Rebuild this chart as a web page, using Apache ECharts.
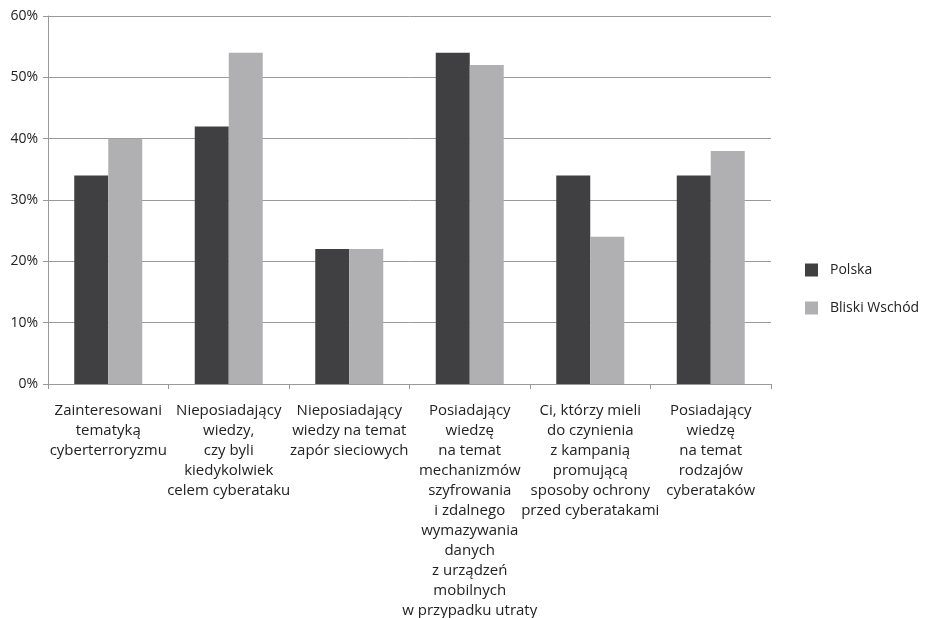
<!DOCTYPE html>
<html>
<head>
<meta charset="utf-8">
<script src="https://cdn.jsdelivr.net/npm/echarts@6/dist/echarts.min.js"></script>
<style>
  html, body { margin: 0; padding: 0; background: #fff; }
  #chart { width: 925px; height: 618px; }
</style>
</head>
<body>
<div id="chart"></div>
<script>
var categories = [
  'Zainteresowani\ntematyką\ncyberterroryzmu',
  'Nieposiadający\nwiedzy,\nczy byli\nkiedykolwiek\ncelem cyberataku',
  'Nieposiadający\nwiedzy na temat\nzapór sieciowych',
  'Posiadający\nwiedzę\nna temat\nmechanizmów\nszyfrowania\ni zdalnego\nwymazywania\ndanych\nz urządzeń\nmobilnych\nw przypadku utraty',
  'Ci, którzy mieli\ndo czynienia\nz kampanią\npromującą\nsposoby ochrony\nprzed cyberatakami',
  'Posiadający\nwiedzę\nna temat\nrodzajów\ncyberataków'
];
var polska = [34, 42, 22, 54, 34, 34];
var bliskiWschod = [40, 54, 22, 52, 24, 38];
var seriesNames = ['Polska', 'Bliski Wschód'];

var font = 'Open Sans';
var chart = echarts.init(document.getElementById('chart'));
var option = {
  animation: false,
  textStyle: { fontFamily: font },
  grid: { left: 48, right: 154, top: 16, bottom: 234, outerBoundsMode: 'none', containLabel: false },
  legend: {
    orient: 'vertical',
    left: 800,
    top: 258,
    itemWidth: 13,
    itemHeight: 13,
    itemGap: 24,
    icon: 'rect',
    textStyle: { fontFamily: font, fontSize: 14, color: '#222', padding: [0, 0, 0, 7] },
    data: seriesNames
  },
  xAxis: {
    type: 'category',
    data: categories,
    axisLine: { lineStyle: { color: '#9a9a9a', width: 1 } },
    axisTick: { show: true, alignWithLabel: false, length: 5, lineStyle: { color: '#9a9a9a' } },
    axisLabel: {
      interval: 0,
      margin: 17,
      fontFamily: font,
      fontSize: 15,
      lineHeight: 20,
      color: '#222'
    }
  },
  yAxis: {
    type: 'value',
    min: 0,
    max: 60,
    interval: 10,
    axisLine: { show: true, lineStyle: { color: '#9a9a9a' } },
    axisTick: { show: true, length: 5, lineStyle: { color: '#9a9a9a' } },
    axisLabel: {
      formatter: '{value}%',
      margin: 10,
      fontFamily: font,
      fontSize: 14,
      color: '#222'
    },
    splitLine: { lineStyle: { color: '#9a9a9a', width: 1 } }
  },
  series: [
    {
      name: seriesNames[0],
      type: 'bar',
      data: polska,
      barWidth: 34,
      barGap: '0%',
      itemStyle: { color: '#404042' }
    },
    {
      name: seriesNames[1],
      type: 'bar',
      data: bliskiWschod,
      barWidth: 34,
      itemStyle: { color: '#b0b0b3' }
    }
  ]
};
chart.setOption(option);
window.onresize = chart.resize;
</script>
</body>
</html>
